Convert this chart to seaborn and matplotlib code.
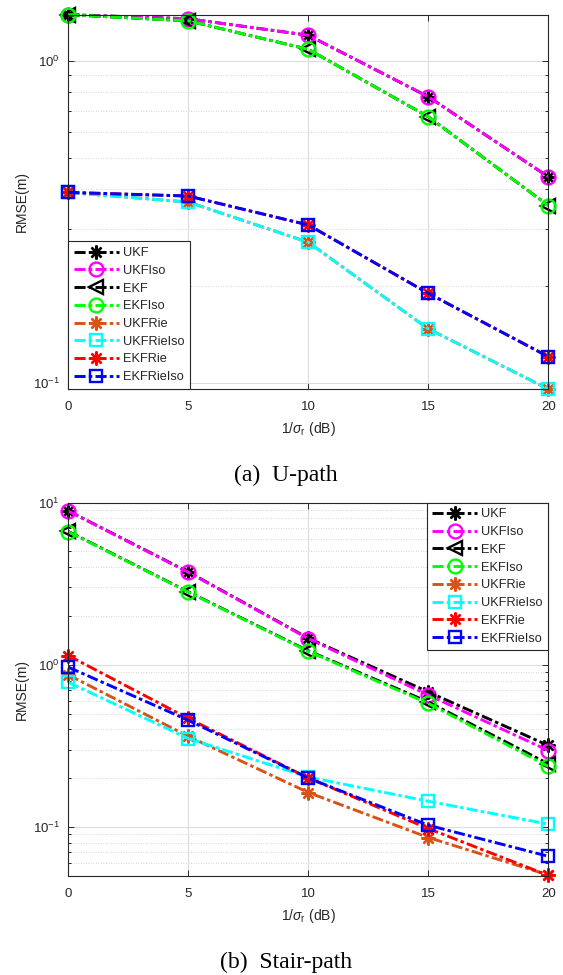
import matplotlib
matplotlib.use("Agg")
import matplotlib.pyplot as plt
from matplotlib.ticker import LogLocator, NullFormatter, FixedLocator
import seaborn as sns

# SNR axis (dB)
snr_db = [0, 5, 10, 15, 20]

# (a) U-path RMSE (m)
u_ukf = [1.39, 1.35, 1.20, 0.773, 0.436]
u_ukfiso = [1.39, 1.35, 1.20, 0.773, 0.436]
u_ekf = [1.39, 1.33, 1.085, 0.67, 0.355]
u_ekfiso = [1.39, 1.33, 1.085, 0.67, 0.355]
u_ukfrie = [0.390, 0.364, 0.273, 0.147, 0.0956]
u_ukfrieiso = [0.390, 0.364, 0.273, 0.147, 0.0956]
u_ekfrie = [0.390, 0.380, 0.309, 0.1895, 0.1205]
u_ekfrieiso = [0.390, 0.380, 0.309, 0.1895, 0.1205]

# (b) Stair-path RMSE (m)
s_ukf = [8.9, 3.74, 1.46, 0.68, 0.318]
s_ukfiso = [8.87, 3.72, 1.45, 0.651, 0.296]
s_ekf = [6.65, 2.82, 1.22, 0.59, 0.245]
s_ekfiso = [6.62, 2.81, 1.21, 0.578, 0.236]
s_ukfrie = [0.867, 0.362, 0.163, 0.086, 0.0505]
s_ukfrieiso = [0.78, 0.351, 0.203, 0.144, 0.104]
s_ekfrie = [1.14, 0.467, 0.2005, 0.0977, 0.0502]
s_ekfrieiso = [0.967, 0.455, 0.200, 0.1024, 0.0659]

names = ["UKF", "UKFIso", "EKF", "EKFIso", "UKFRie", "UKFRieIso", "EKFRie", "EKFRieIso"]
colors = ["#000000", "#FF00FF", "#000000", "#00FF00", "#D95319", "#00FFFF", "#FF0000", "#0000FF"]
star = (8, 2, 0)
markers = [star, "o", "<", "o", star, "s", star, "s"]
msizes = [10, 10, 10, 10, 10, 9, 10, 9]

u_series = [u_ukf, u_ukfiso, u_ekf, u_ekfiso, u_ukfrie, u_ukfrieiso, u_ekfrie, u_ekfrieiso]
s_series = [s_ukf, s_ukfiso, s_ekf, s_ekfiso, s_ukfrie, s_ukfrieiso, s_ekfrie, s_ekfrieiso]

sns.set_style("ticks")
plt.rcParams["font.family"] = ["Liberation Sans", "DejaVu Sans"]
plt.rcParams["mathtext.fontset"] = "custom"
plt.rcParams["mathtext.rm"] = "Liberation Sans"
plt.rcParams["mathtext.it"] = "Liberation Sans:italic"
plt.rcParams["mathtext.bf"] = "Liberation Sans:bold"

W, H = 563, 975
fig = plt.figure(figsize=(W / 100, H / 100), dpi=100)
fig.patch.set_facecolor("white")

ax_a = fig.add_axes([68.3 / W, (H - 389.0) / H, 480 / W, 374.3 / H])
ax_b = fig.add_axes([68.3 / W, (H - 875.7) / H, 480 / W, 373.0 / H])

dash_dot = (0, (3.8, 1.1, 1.2, 1.1))
TXT = "#262626"


def draw_panel(ax, series, ylim, legend_loc):
    for name, vals, c, m, ms in zip(names, series, colors, markers, msizes):
        sns.lineplot(x=snr_db, y=vals, ax=ax, color=c, marker=m, markersize=ms,
                     markerfacecolor="none", markeredgecolor=c, markeredgewidth=1.7,
                     linestyle=dash_dot, linewidth=2.1, label=name, clip_on=False)
    ax.set_yscale("log")
    ax.set_xlim(0, 20)
    ax.set_ylim(*ylim)
    ax.xaxis.set_major_locator(FixedLocator(snr_db))
    ax.yaxis.set_major_locator(LogLocator(base=10))
    ax.yaxis.set_minor_locator(LogLocator(base=10, subs=range(2, 10), numticks=50))
    ax.yaxis.set_minor_formatter(NullFormatter())
    ax.set_axisbelow(True)
    ax.grid(which="major", axis="both", color="#dcdcdc", linewidth=0.8, linestyle="-")
    ax.grid(which="minor", axis="y", color="#c8c8c8", linewidth=0.6, linestyle=(0, (1, 2)))
    ax.tick_params(which="both", direction="in", top=True, right=True,
                   colors=TXT, labelsize=9.5, width=0.7)
    ax.tick_params(which="major", length=4.5)
    ax.tick_params(which="minor", length=2.5)
    ax.tick_params(axis="x", which="major", pad=9)
    ax.tick_params(axis="y", which="major", pad=6)
    for sp in ax.spines.values():
        sp.set_color(TXT)
        sp.set_linewidth(0.8)
    ax.set_xlabel(r"1/$\sigma_{\mathrm{r}}$ (dB)", fontsize=10, color=TXT)
    ax.set_ylabel("RMSE(m)", fontsize=10, color=TXT)
    ax.xaxis.set_label_coords(0.5, -0.083)
    ax.yaxis.set_label_coords(-0.083, 0.5)
    leg = ax.legend(loc=legend_loc, fontsize=9.2, frameon=True, fancybox=False,
                    framealpha=1, edgecolor=TXT, borderaxespad=0.0,
                    handlelength=3.5, handletextpad=0.3, labelspacing=0.45,
                    borderpad=0.45)
    leg.get_frame().set_linewidth(0.8)


all_u = [v for s in u_series for v in s]
draw_panel(ax_a, u_series, (min(all_u), max(all_u)), "lower left")
draw_panel(ax_b, s_series, (0.05, 10), "upper right")

fig.text(286 / W, 1 - 475 / H, "(a)  U-path", ha="center", va="center",
         fontsize=17, family="Liberation Serif", color="black")
fig.text(286 / W, 1 - 962 / H, "(b)  Stair-path", ha="center", va="center",
         fontsize=17, family="Liberation Serif", color="black")

fig.savefig("out.png", dpi=100, facecolor="white")
